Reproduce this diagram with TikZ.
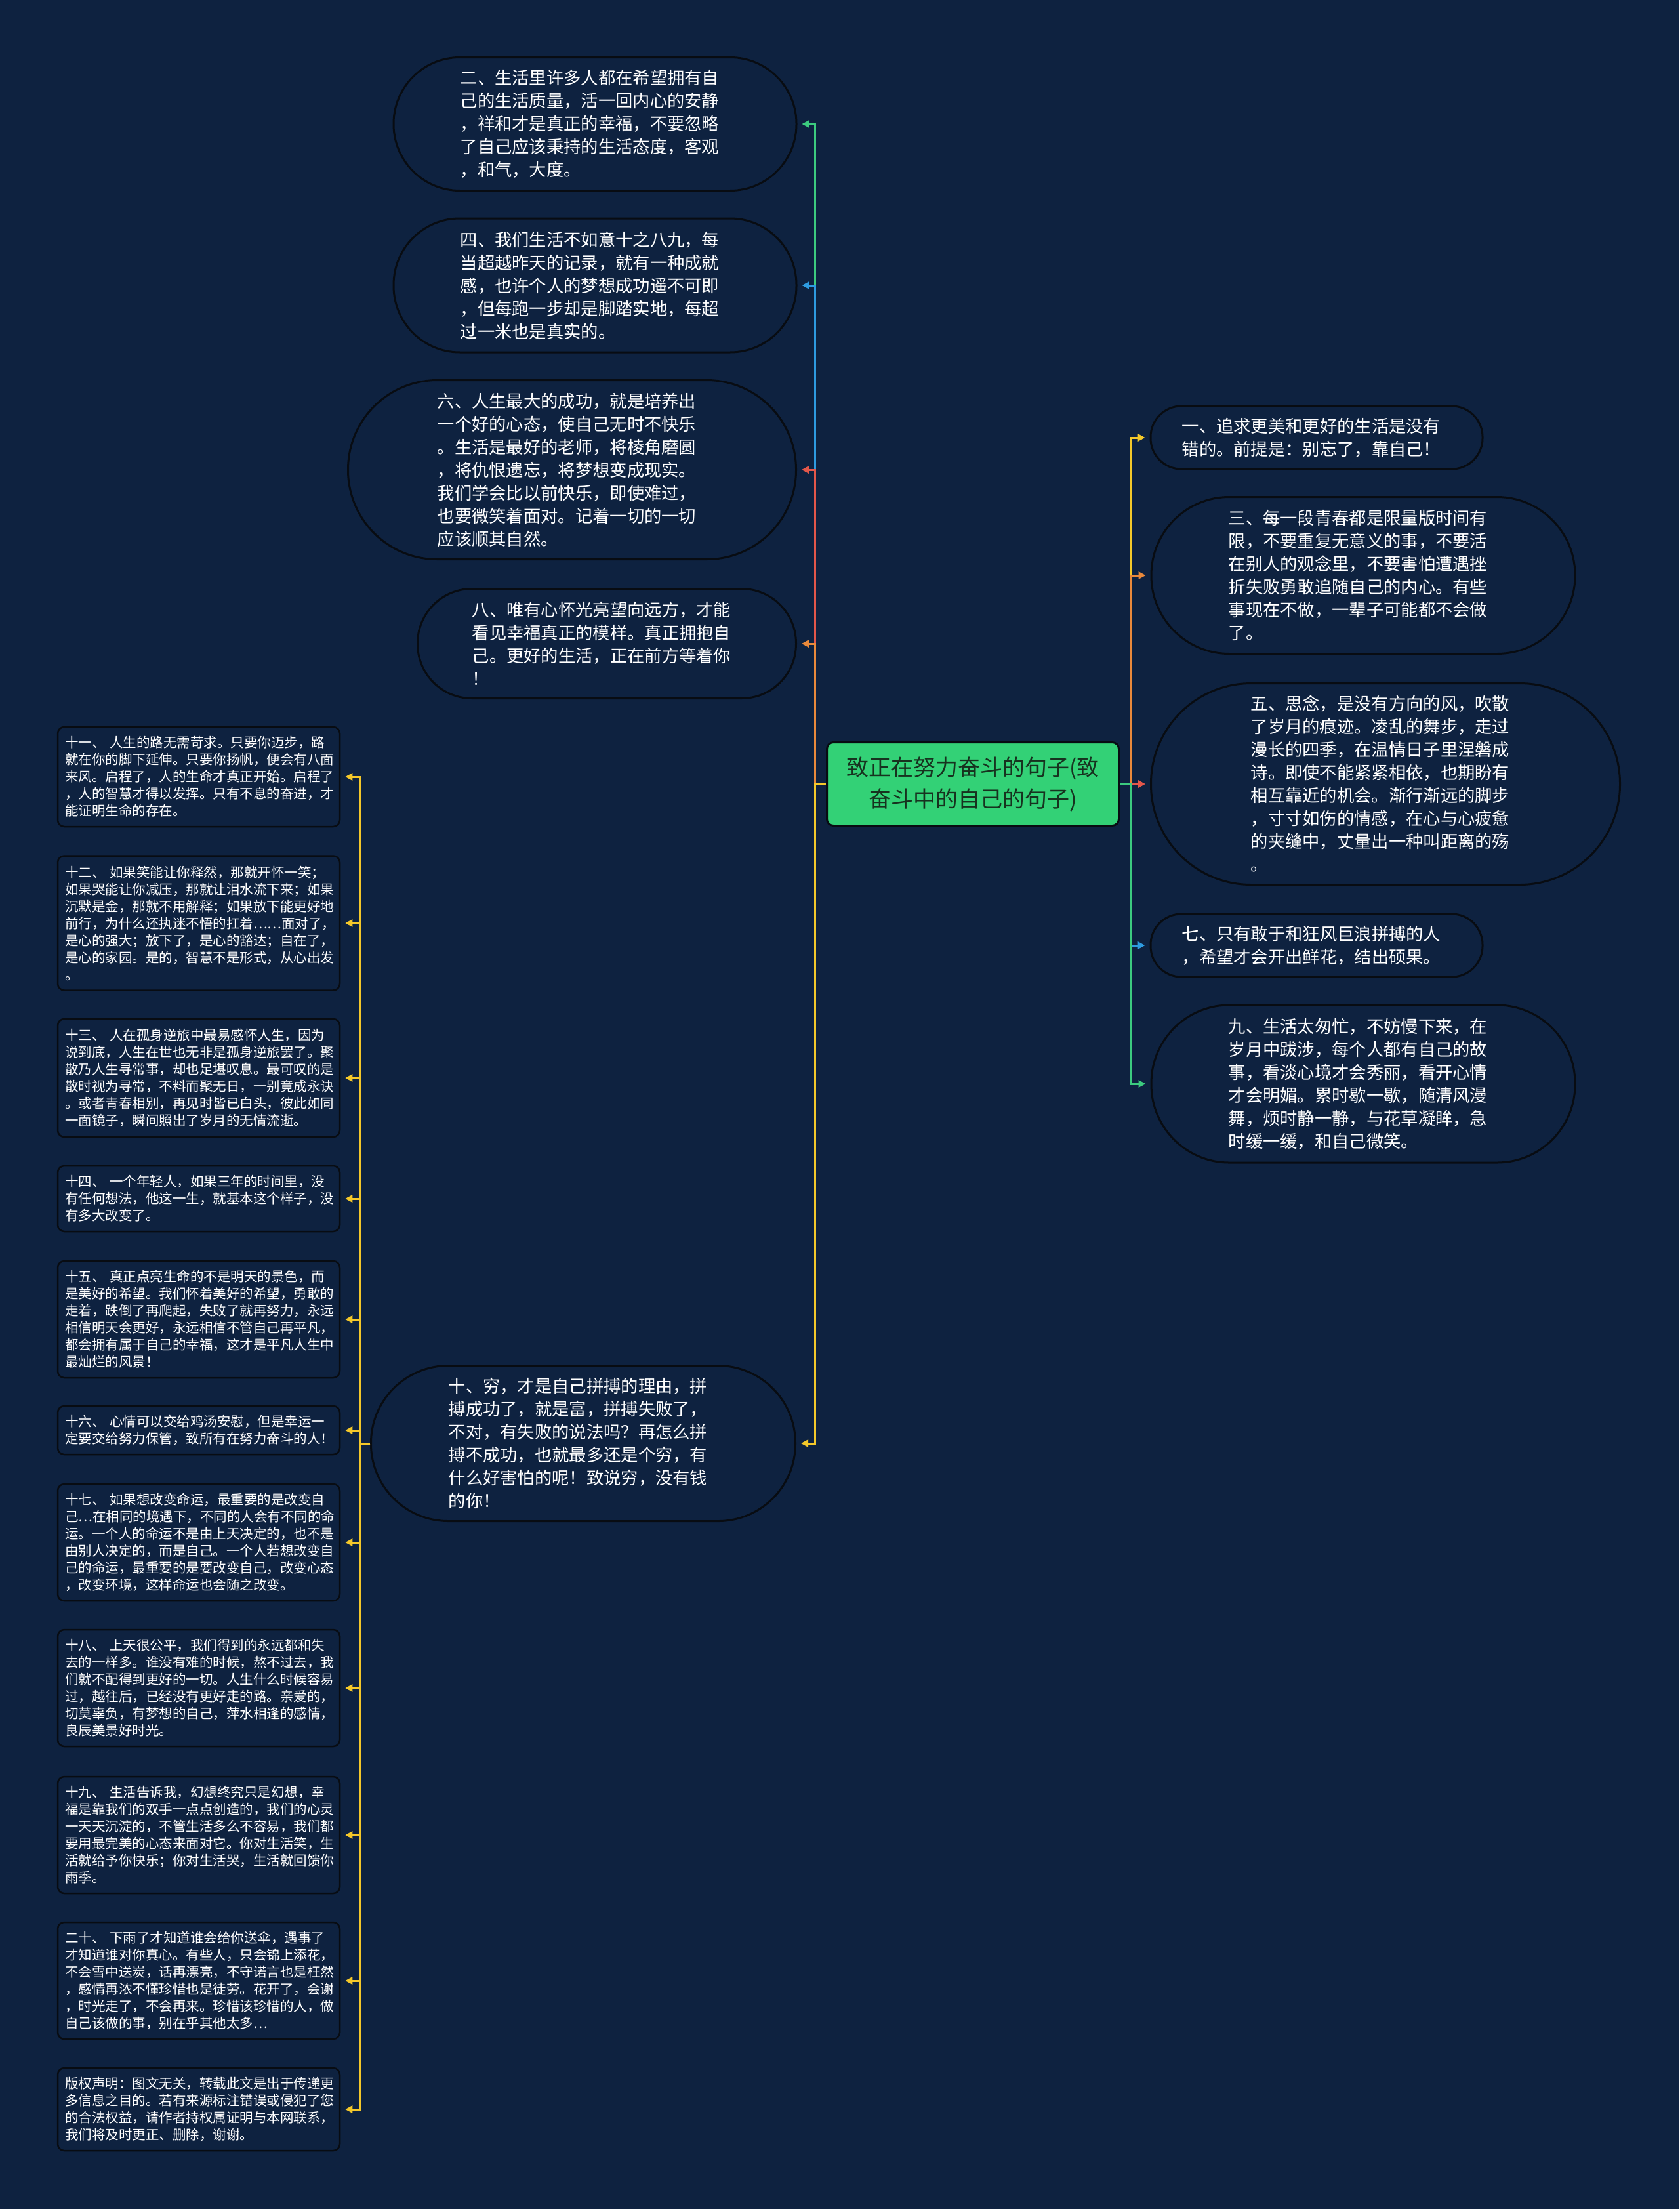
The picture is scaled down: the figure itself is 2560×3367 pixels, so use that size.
\documentclass[tikz,border=0pt]{standalone}
\usepackage{fontspec}
\setmainfont{Noto Sans CJK SC}
\usetikzlibrary{arrows.meta}
\definecolor{bg}{HTML}{0E2240}
\definecolor{bubbleline}{HTML}{080C12}
\definecolor{cgreen}{HTML}{3CCB7F}
\definecolor{cblue}{HTML}{2E9BE0}
\definecolor{cred}{HTML}{E3574A}
\definecolor{corange}{HTML}{E9893B}
\definecolor{cyellow}{HTML}{F4C82A}
\definecolor{centerfill}{HTML}{33D176}
\definecolor{centertext}{HTML}{17321F}
\newcommand{\shl}{\kern16pt}
\begin{document}
\begin{tikzpicture}[x=1pt,y=-1pt,
  bubble/.style={draw=bubbleline, line width=3pt, fill=bg, text=white, align=left,
    inner sep=0pt, font=\fontsize{26.3}{35}\selectfont},
  smallbox/.style={draw=bubbleline, line width=2.5pt, fill=bg, rounded corners=10pt,
    text=white, align=left, text width=408pt, inner xsep=11pt, inner ysep=11pt,
    font=\fontsize{20.5}{26}\selectfont},
  centerbox/.style={draw=bubbleline, line width=3pt, fill=centerfill, rounded corners=10pt,
    text=centertext, align=center, minimum width=445pt, minimum height=127pt,
    font=\fontsize{34}{48}\selectfont},
  link/.style={line width=3pt, -{Triangle[length=11pt,width=11pt]}, shorten >=7pt}
]
\fill[bg] (0,0) rectangle (2560,3367);
\useasboundingbox (0,0) rectangle (2560,3367);

% central node
\node[centerbox] (c) at (1483,1195) {致正在努力奋斗的句子(致\\奋斗中的自己的句子)};

% left upper bubbles
\node[bubble, minimum width=614pt, minimum height=203pt, rounded corners=101pt] (n2) at (907,189)
 {二、生活里许多人都在希望拥有自\shl\\己的生活质量，活一回内心的安静\\，祥和才是真正的幸福，不要忽略\\了自己应该秉持的生活态度，客观\\，和气，大度。};
\node[bubble, minimum width=614pt, minimum height=204pt, rounded corners=101pt] (n4) at (907,435)
 {四、我们生活不如意十之八九，每\shl\\当超越昨天的记录，就有一种成就\\感，也许个人的梦想成功遥不可即\\，但每跑一步却是脚踏实地，每超\\过一米也是真实的。};
\node[bubble, minimum width=683pt, minimum height=273pt, rounded corners=136pt] (n6) at (872,716)
 {六、人生最大的成功，就是培养出\shl\\一个好的心态，使自己无时不快乐\\。生活是最好的老师，将棱角磨圆\\，将仇恨遗忘，将梦想变成现实。\\我们学会比以前快乐，即使难过，\\也要微笑着面对。记着一切的一切\\应该顺其自然。};
\node[bubble, minimum width=577pt, minimum height=167pt, rounded corners=83pt] (n8) at (925,981)
 {八、唯有心怀光亮望向远方，才能\shl\\看见幸福真正的模样。真正拥抱自\\己。更好的生活，正在前方等着你\\！};
\node[bubble, minimum width=647pt, minimum height=237pt, rounded corners=118pt] (n10) at (889,2200)
 {十、穷，才是自己拼搏的理由，拼\shl\\搏成功了，就是富，拼搏失败了，\\不对，有失败的说法吗？再怎么拼\\搏不成功，也就最多还是个穷，有\\什么好害怕的呢！致说穷，没有钱\\的你！};

% right bubbles
\node[bubble, minimum width=506pt, minimum height=96pt, rounded corners=47pt] (n1) at (2007,667)
 {一、追求更美和更好的生活是没有\shl\\错的。前提是：别忘了，靠自己！};
\node[bubble, minimum width=646pt, minimum height=239pt, rounded corners=119pt] (n3) at (2078,877)
 {三、每一段青春都是限量版时间有\shl\\限，不要重复无意义的事，不要活\\在别人的观念里，不要害怕遭遇挫\\折失败勇敢追随自己的内心。有些\\事现在不做，一辈子可能都不会做\\了。};
\node[bubble, minimum width=715pt, minimum height=307pt, rounded corners=153pt] (n5) at (2112,1195)
 {五、思念，是没有方向的风，吹散\shl\\了岁月的痕迹。凌乱的舞步，走过\\漫长的四季，在温情日子里涅磐成\\诗。即使不能紧紧相依，也期盼有\\相互靠近的机会。渐行渐远的脚步\\，寸寸如伤的情感，在心与心疲惫\\的夹缝中，丈量出一种叫距离的殇\\。};
\node[bubble, minimum width=506pt, minimum height=96pt, rounded corners=47pt] (n7) at (2007,1441)
 {七、只有敢于和狂风巨浪拼搏的人\shl\\，希望才会开出鲜花，结出硕果。};
\node[bubble, minimum width=646pt, minimum height=240pt, rounded corners=119pt] (n9) at (2078,1652)
 {九、生活太匆忙，不妨慢下来，在\shl\\岁月中跋涉，每个人都有自己的故\\事，看淡心境才会秀丽，看开心情\\才会明媚。累时歇一歇，随清风漫\\舞，烦时静一静，与花草凝眸，急\\时缓一缓，和自己微笑。};

% small left boxes
\node[smallbox, minimum height=152pt] (n11) at (303,1184)
 {十一、\kern7pt人生的路无需苛求。只要你迈步，路\\就在你的脚下延伸。只要你扬帆，便会有八面\\来风。启程了，人的生命才真正开始。启程了\\，人的智慧才得以发挥。只有不息的奋进，才\\能证明生命的存在。};
\node[smallbox, minimum height=205pt] (n12) at (303,1407)
 {十二、\kern7pt如果笑能让你释然，那就开怀一笑；\\如果哭能让你减压，那就让泪水流下来；如果\\沉默是金，那就不用解释；如果放下能更好地\\前行，为什么还执迷不悟的扛着……面对了，\\是心的强大；放下了，是心的豁达；自在了，\\是心的家园。是的，智慧不是形式，从心出发\\。};
\node[smallbox, minimum height=180pt] (n13) at (303,1643)
 {十三、\kern7pt人在孤身逆旅中最易感怀人生，因为\\说到底，人生在世也无非是孤身逆旅罢了。聚\\散乃人生寻常事，却也足堪叹息。最可叹的是\\散时视为寻常，不料而聚无日，一别竟成永诀\\。或者青春相别，再见时皆已白头，彼此如同\\一面镜子，瞬间照出了岁月的无情流逝。};
\node[smallbox, minimum height=100pt] (n14) at (303,1827)
 {十四、\kern7pt一个年轻人，如果三年的时间里，没\\有任何想法，他这一生，就基本这个样子，没\\有多大改变了。};
\node[smallbox, minimum height=178pt] (n15) at (303,2011)
 {十五、\kern7pt真正点亮生命的不是明天的景色，而\\是美好的希望。我们怀着美好的希望，勇敢的\\走着，跌倒了再爬起，失败了就再努力，永远\\相信明天会更好，永远相信不管自己再平凡，\\都会拥有属于自己的幸福，这才是平凡人生中\\最灿烂的风景！};
\node[smallbox, minimum height=74pt] (n16) at (303,2180)
 {十六、\kern7pt心情可以交给鸡汤安慰，但是幸运一\\定要交给努力保管，致所有在努力奋斗的人！};
\node[smallbox, minimum height=178pt] (n17) at (303,2351)
 {十七、\kern7pt如果想改变命运，最重要的是改变自\\己…在相同的境遇下，不同的人会有不同的命\\运。一个人的命运不是由上天决定的，也不是\\由别人决定的，而是自己。一个人若想改变自\\己的命运，最重要的是要改变自己，改变心态\\，改变环境，这样命运也会随之改变。};
\node[smallbox, minimum height=178pt] (n18) at (303,2573)
 {十八、\kern7pt上天很公平，我们得到的永远都和失\\去的一样多。谁没有难的时候，熬不过去，我\\们就不配得到更好的一切。人生什么时候容易\\过，越往后，已经没有更好走的路。亲爱的，\\切莫辜负，有梦想的自己，萍水相逢的感情，\\良辰美景好时光。};
\node[smallbox, minimum height=178pt] (n19) at (303,2797)
 {十九、\kern7pt生活告诉我，幻想终究只是幻想，幸\\福是靠我们的双手一点点创造的，我们的心灵\\一天天沉淀的，不管生活多么不容易，我们都\\要用最完美的心态来面对它。你对生活笑，生\\活就给予你快乐；你对生活哭，生活就回馈你\\雨季。};
\node[smallbox, minimum height=178pt] (n20) at (303,3019)
 {二十、\kern7pt下雨了才知道谁会给你送伞，遇事了\\才知道谁对你真心。有些人，只会锦上添花，\\不会雪中送炭，话再漂亮，不守诺言也是枉然\\，感情再浓不懂珍惜也是徒劳。花开了，会谢\\，时光走了，不会再来。珍惜该珍惜的人，做\\自己该做的事，别在乎其他太多…};
\node[smallbox, minimum height=126pt] (ncr) at (303,3215)
 {版权声明：图文无关，转载此文是出于传递更\\多信息之目的。若有来源标注错误或侵犯了您\\的合法权益，请作者持权属证明与本网联系，\\我们将及时更正、删除，谢谢。};

% connectors: left upper group
\draw[link, cgreen]  (c.west) -- ++(-17,0) |- (n2.east);
\draw[link, cblue]   (c.west) -- ++(-17,0) |- (n4.east);
\draw[link, cred]    (c.west) -- ++(-17,0) |- (n6.east);
\draw[link, corange] (c.west) -- ++(-17,0) |- (n8.east);
\draw[link, cyellow] (c.west) -- ++(-17,0) |- (n10.east);

% connectors: right group
\draw[link, cyellow] (c.east) -- ++(17,0) |- (n1.west);
\draw[link, corange] (c.east) -- ++(17,0) |- (n3.west);
\draw[link, cred]    (c.east) -- ++(17,0) |- (n5.west);
\draw[link, cblue]   (c.east) -- ++(17,0) |- (n7.west);
\draw[link, cgreen]  (c.east) -- ++(17,0) |- (n9.west);

% connectors: lower left group
\foreach \t in {n11,n12,n13,n14,n15,n16,n17,n18,n19,n20,ncr}
  \draw[link, cyellow] (n10.west) -- ++(-16,0) |- (\t.east);
\end{tikzpicture}
\end{document}
